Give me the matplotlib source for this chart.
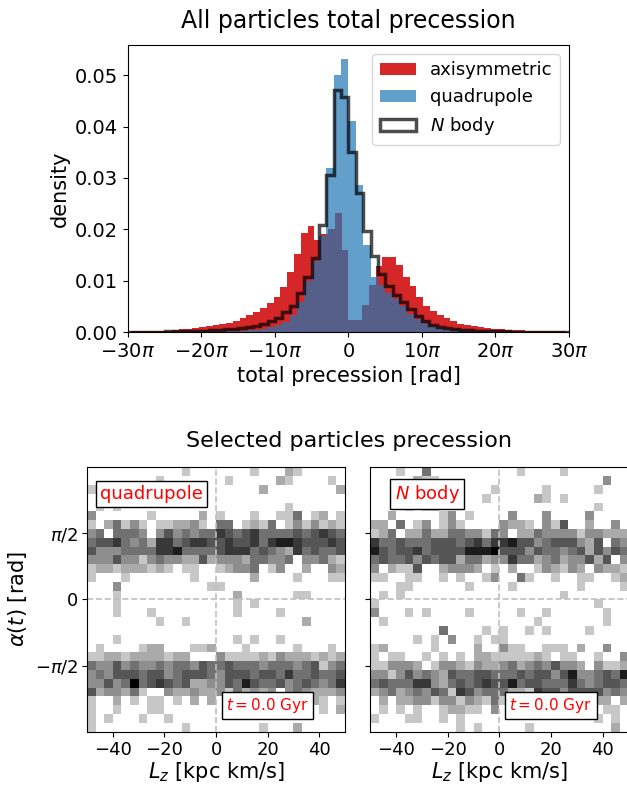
import numpy as np
import matplotlib.pyplot as plt

# ---- top panel: densities per bin ----
# quadrupole and N body share bins of width pi from -30pi to 30pi
edges_pi = np.arange(-30, 31)
quad = [0, 0, 0, 0, 0, 0, 0, 0,
        0.0001, 0.0001, 0.0001, 0.0001, 0.0001, 0.0001,
        0.0002, 0.0002, 0.0003, 0.0004, 0.0006, 0.0009, 0.0013, 0.0020,
        0.0033, 0.0058, 0.0100, 0.0138, 0.0186, 0.0320, 0.0500, 0.0532,
        0.0410, 0.0287, 0.0170, 0.0108, 0.0092, 0.0076, 0.0065, 0.0050,
        0.0036, 0.0025, 0.0017, 0.0012, 0.0008, 0.0005, 0.0004, 0.0003,
        0.0002, 0.0001, 0.0001, 0.0001,
        0, 0, 0, 0, 0, 0, 0, 0, 0, 0]
nbody = [0, 0, 0, 0, 0,
         0.0001, 0.0001, 0.0001, 0.0001,
         0.0002, 0.0002, 0.0003, 0.0004, 0.0005, 0.0006, 0.0008, 0.0010,
         0.0012, 0.0016, 0.0021, 0.0027, 0.0038, 0.0051, 0.0076, 0.0107,
         0.0144, 0.0208, 0.0306, 0.0471, 0.0457,
         0.0350, 0.0270, 0.0196, 0.0147, 0.0113, 0.0089, 0.0073, 0.0058,
         0.0044, 0.0031, 0.0021, 0.0014, 0.0010, 0.0007, 0.0005, 0.0004,
         0.0003, 0.0002, 0.0002, 0.0001, 0.0001, 0.0001,
         0, 0, 0, 0, 0, 0, 0, 0]
# axisymmetric uses slightly narrower bins (0.925 pi)
axi_width = 0.925
axi_k = np.arange(-33, 34)
axi = [0, 0.0001, 0.0001, 0.0001, 0.0001, 0.0002, 0.0002, 0.0003, 0.0005,
       0.0006, 0.0008, 0.0010, 0.0011, 0.0013, 0.0016, 0.0018, 0.0021,
       0.0027, 0.0034, 0.0038, 0.0047, 0.0056, 0.0069, 0.0087, 0.0117,
       0.0151, 0.0193, 0.0206, 0.0180, 0.0190, 0.0201, 0.0232, 0.0160,
       0.0024, 0.0024, 0.0053, 0.0092, 0.0128, 0.0146, 0.0146, 0.0131,
       0.0108, 0.0089, 0.0069, 0.0051, 0.0040, 0.0034, 0.0027, 0.0021,
       0.0016, 0.0013, 0.0011, 0.0009, 0.0007, 0.0006, 0.0005, 0.0004,
       0.0003, 0.0003, 0.0002, 0.0002, 0.0001, 0.0001, 0.0001, 0.0001, 0]

xtick_pi = [-30, -20, -10, 0, 10, 20, 30]
xtick_labels = [r'$-30\pi$', r'$-20\pi$', r'$-10\pi$', r'$0$',
                r'$10\pi$', r'$20\pi$', r'$30\pi$']

# ---- bottom panels: 30x30 counts, top row = alpha near +pi ----
q_rows = [
    "000000000001000000010002100000",
    "000000001000000010000021000010",
    "100000000000000000002000000002",
    "000000000000000000000000000000",
    "010100000000000000000001000000",
    "300000010000020100010011401201",
    "102413101122310440121401313121",
    "340444303534344654564444545654",
    "455643426645665565564677655565",
    "533344446674444566645432645445",
    "333533134332252333244334033421",
    "122122212101100123340130020032",
    "100010000000100000020000100011",
    "000300000000001100000000000000",
    "000100000000000002000000110000",
    "000100000000000001010000000000",
    "000100010000000001000010000000",
    "000000001001000000000000020000",
    "000000000000000000000000000000",
    "000100000000000001010010000000",
    "010000122000112000100000100010",
    "112212222122000311112132221212",
    "433534334344354454443444345134",
    "343555455345554355545546445445",
    "335348456545223354754453454346",
    "523324100322322314232303432223",
    "100201011010202000000000002101",
    "100100011000000000000000000102",
    "101000100100000000000000000000",
    "100000000001000000001000200000",
]
nb_rows = [
    "000100400000000001000010000000",
    "000002110000000000000000000300",
    "000000000000001000001000001000",
    "000000000000010000021010000000",
    "000010110000000000000000001000",
    "002000001301000030003000030000",
    "220401301310000322103150020030",
    "124022422443314302243333133222",
    "644544455545646675534555325043",
    "754556455557778555354434525354",
    "454453545524423364423423352503",
    "302115002333201020013213203221",
    "110011001010013004100100110012",
    "000110000001000010000000100001",
    "010100000000000000000010000000",
    "100000000000000000000000001000",
    "300010100001000001001000000100",
    "010000000000000000010000000100",
    "000000004000010100101000010000",
    "000001010300101100000000000000",
    "120000010000200311001110200300",
    "101100101010221111121011001003",
    "113332013321322342343533203112",
    "331353432544554445455357334547",
    "454446632454565574554446434554",
    "234234354165344422165535555343",
    "020223313313214120000000002202",
    "010101001221103000000000000110",
    "100011001010000000000000001010",
    "000000000010100000100000000020",
]
lz_ticks = [-40, -20, 0, 20, 40]
alpha_ticks = [-np.pi / 2, 0, np.pi / 2]
alpha_labels = [r'$-\pi/2$', r'$0$', r'$\pi/2$']

fig = plt.figure(figsize=(6.27, 7.86), dpi=100)

# top histogram
ax = fig.add_axes([0.2041, 0.5776, 0.7034, 0.3651])
edges = edges_pi * np.pi
centers = 0.5 * (edges[1:] + edges[:-1])
axi_edges = axi_k * axi_width * np.pi
axi_centers = 0.5 * (axi_edges[1:] + axi_edges[:-1])
ax.hist(axi_centers, bins=axi_edges, weights=axi, color='tab:red',
        label='axisymmetric')
ax.hist(centers, bins=edges, weights=quad, color='tab:blue', alpha=0.7,
        label='quadrupole')
ax.hist(centers, bins=edges, weights=nbody, histtype='step', color='k',
        alpha=0.7, lw=2.5, label='$N$ body')
ax.set_xlim(-30 * np.pi, 30 * np.pi)
ax.set_xticks(np.array(xtick_pi) * np.pi)
ax.set_xticklabels(xtick_labels)
ax.tick_params(labelsize=14)
ax.set_xlabel('total precession [rad]', fontsize=15)
ax.set_ylabel('density', fontsize=15)
ax.set_title('All particles total precession', fontsize=17, pad=12)
ax.legend(loc='upper right', fontsize=13)

# bottom 2d histograms
lz_edges = np.linspace(-50, 50, 31)
al_edges = np.linspace(-np.pi, np.pi, 31)
axL = fig.add_axes([0.1388, 0.0691, 0.4115, 0.3364])
axR = fig.add_axes([0.5907, 0.0691, 0.4115, 0.3364], sharey=axL)

for a, rows, name in [(axL, q_rows, 'quadrupole'), (axR, nb_rows, '$N$ body')]:
    grid = np.array([[int(c) for c in r] for r in rows])[::-1]
    a.pcolormesh(lz_edges, al_edges, np.ma.masked_equal(grid, 0),
                 cmap='gray_r', vmin=-1, vmax=8)
    a.axvline(0, ls='--', color='0.75', lw=1.2)
    a.axhline(0, ls='--', color='0.75', lw=1.2)
    a.set_xlim(-50, 50)
    a.set_ylim(-np.pi, np.pi)
    a.set_xticks(lz_ticks)
    a.tick_params(labelsize=13, pad=3)
    a.set_xlabel('$L_z$ [kpc km/s]', fontsize=15, labelpad=1)
    cx = 0.25 if a is axL else 0.22
    a.text(cx, 0.899, name, transform=a.transAxes, ha='center', va='center',
           color='red', fontsize=13,
           bbox=dict(facecolor='white', edgecolor='k', pad=3))
    a.text(0.70, 0.099, '$t = 0.0$ Gyr', transform=a.transAxes,
           ha='center', va='center', color='red', fontsize=11,
           bbox=dict(facecolor='white', edgecolor='k', pad=3))

axL.set_yticks(alpha_ticks)
axL.set_yticklabels(alpha_labels)
axL.set_ylabel(r'$\alpha(t)$ [rad]', fontsize=15)
axR.tick_params(labelleft=False)

fig.text(0.5566, 0.439, 'Selected particles precession', ha='center',
         va='center', fontsize=16)

fig.savefig('out.png', dpi=100)
